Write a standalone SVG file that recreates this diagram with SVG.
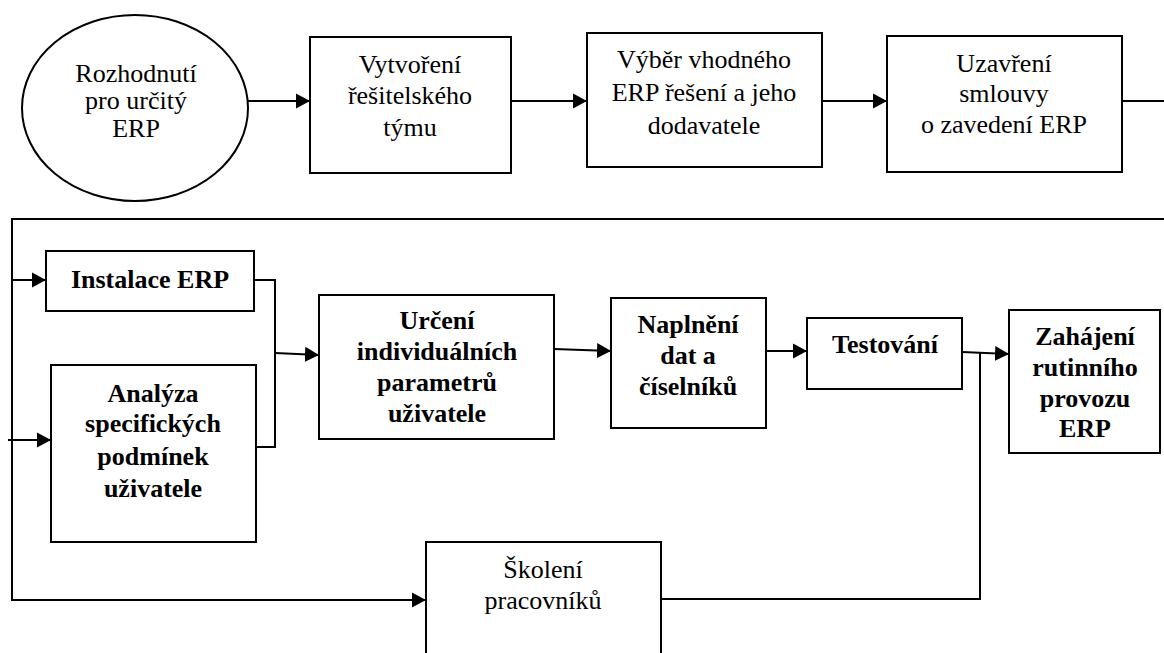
<svg xmlns="http://www.w3.org/2000/svg" width="1164" height="653" viewBox="0 0 1164 653">
  <style>
    .box { fill: #fff; stroke: #000; stroke-width: 2; }
    .wire { fill: none; stroke: #000; stroke-width: 2; }
    .b { font-weight: bold; }
  </style>
  <defs>
    <marker id="arrow" markerUnits="userSpaceOnUse" markerWidth="15" markerHeight="17" refX="14" refY="8" orient="auto">
      <path d="M0,0.5 L14,8 L0,15.5 Z" fill="#000"/>
    </marker>
  </defs>
  <rect width="1164" height="653" fill="#fff"/>

  <!-- connectors -->
  <g id="connectors">
    <line class="wire" x1="248" y1="101" x2="310" y2="101" marker-end="url(#arrow)"/>
    <line class="wire" x1="511" y1="101" x2="587" y2="101" marker-end="url(#arrow)"/>
    <line class="wire" x1="822" y1="101" x2="887" y2="101" marker-end="url(#arrow)"/>
    <line class="wire" x1="1122" y1="101" x2="1164" y2="101"/>
    <!-- return line feeding the second row -->
    <polyline class="wire" points="1164,219 12,219 12,600"/>
    <line class="wire" x1="12" y1="280" x2="46" y2="280" marker-end="url(#arrow)"/>
    <line class="wire" x1="8" y1="440" x2="51" y2="440" marker-end="url(#arrow)"/>
    <line class="wire" x1="11" y1="600" x2="426" y2="600" marker-end="url(#arrow)"/>
    <!-- merge bracket -->
    <polyline class="wire" points="254,280 275,280 275,447 256,447"/>
    <line class="wire" x1="275" y1="353" x2="319" y2="355" marker-end="url(#arrow)"/>
    <line class="wire" x1="554" y1="349" x2="611" y2="351" marker-end="url(#arrow)"/>
    <line class="wire" x1="766" y1="351" x2="807" y2="351" marker-end="url(#arrow)"/>
    <line class="wire" x1="962" y1="352" x2="1009" y2="354" marker-end="url(#arrow)"/>
    <polyline class="wire" points="661,599 980,599 980,353"/>
  </g>

  <g font-family="Liberation Serif, Times New Roman, DejaVu Serif, serif" font-size="26" text-anchor="middle" fill="#000">
  <!-- top row -->
  <g id="n-rozhodnuti">
    <ellipse class="box" cx="135" cy="108" rx="113" ry="93"/>
    <text x="136" y="82">Rozhodnutí</text>
    <text x="136" y="109">pro určitý</text>
    <text x="136" y="137">ERP</text>
  </g>
  <g id="n-tym">
    <rect class="box" x="310" y="37" width="201" height="136"/>
    <text x="410" y="73">Vytvoření</text>
    <text x="410" y="104">řešitelského</text>
    <text x="410" y="136">týmu</text>
  </g>
  <g id="n-vyber">
    <rect class="box" x="587" y="33" width="235" height="134"/>
    <text x="704" y="68">Výběr vhodného</text>
    <text x="704" y="101">ERP řešení a jeho</text>
    <text x="704" y="134">dodavatele</text>
  </g>
  <g id="n-smlouva">
    <rect class="box" x="887" y="36" width="235" height="136"/>
    <text x="1004" y="72">Uzavření</text>
    <text x="1004" y="102">smlouvy</text>
    <text x="1004" y="133">o zavedení ERP</text>
  </g>

  <!-- second row -->
  <g id="n-instalace">
    <rect class="box" x="46" y="251" width="208" height="60"/>
    <text class="b" x="150" y="288">Instalace ERP</text>
  </g>
  <g id="n-analyza">
    <rect class="box" x="51" y="365" width="205" height="177"/>
    <text class="b" x="153" y="402">Analýza</text>
    <text class="b" x="153" y="432">specifických</text>
    <text class="b" x="153" y="465">podmínek</text>
    <text class="b" x="153" y="497">uživatele</text>
  </g>
  <g id="n-urceni">
    <rect class="box" x="319" y="295" width="235" height="144"/>
    <text class="b" x="437" y="329">Určení</text>
    <text class="b" x="437" y="360">individuálních</text>
    <text class="b" x="437" y="391">parametrů</text>
    <text class="b" x="437" y="422">uživatele</text>
  </g>
  <g id="n-naplneni">
    <rect class="box" x="611" y="298" width="155" height="130"/>
    <text class="b" x="688" y="333">Naplnění</text>
    <text class="b" x="688" y="364">dat a</text>
    <text class="b" x="688" y="395">číselníků</text>
  </g>
  <g id="n-testovani">
    <rect class="box" x="807" y="318" width="155" height="71"/>
    <text class="b" x="885" y="353">Testování</text>
  </g>
  <g id="n-zahajeni">
    <rect class="box" x="1009" y="310" width="151" height="143"/>
    <text class="b" x="1085" y="345">Zahájení</text>
    <text class="b" x="1085" y="376">rutinního</text>
    <text class="b" x="1085" y="407">provozu</text>
    <text class="b" x="1085" y="437">ERP</text>
  </g>
  <g id="n-skoleni">
    <rect class="box" x="426" y="542" width="235" height="130"/>
    <text x="543" y="578">Školení</text>
    <text x="543" y="609">pracovníků</text>
  </g>
  </g>
</svg>
